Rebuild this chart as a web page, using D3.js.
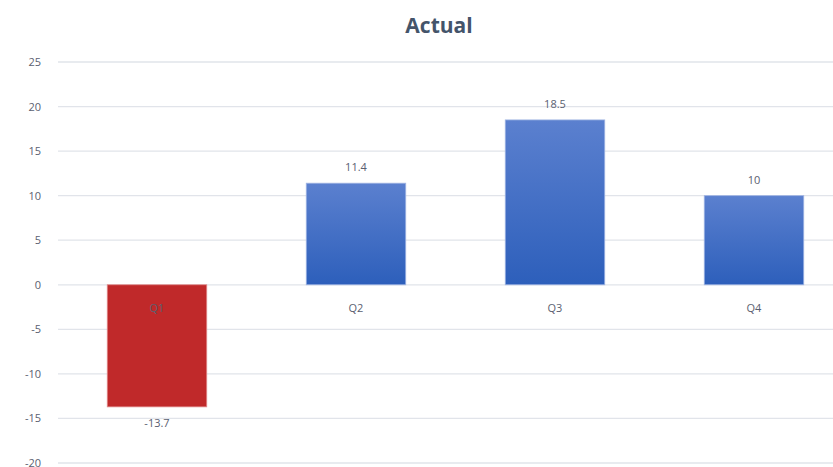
<!DOCTYPE html>
<html><head><meta charset="utf-8">
<script src="https://cdn.jsdelivr.net/npm/d3@7"></script>
<style>body{margin:0;background:#fff;overflow:hidden}svg{display:block}</style>
</head><body>
<script>
const categories = ["Q1","Q2","Q3","Q4"];
const values = [-13.7, 11.4, 18.5, 10];
const yTicks = [25,20,15,10,5,0,-5,-10,-15,-20];
const title = "Actual";

const W = 833, H = 467;
const txtColor = "#5a6070";
const svg = d3.select("body").append("svg").attr("width", W).attr("height", H);
const defs = svg.append("defs");
const g1 = defs.append("linearGradient").attr("id","blueGrad").attr("x1",0).attr("y1",0).attr("x2",0).attr("y2",1);
g1.append("stop").attr("offset","0%").attr("stop-color","#5b80cf");
g1.append("stop").attr("offset","100%").attr("stop-color","#2d5fbb");

const x = d3.scaleBand().domain(categories).range([57.5, 853.5]).paddingInner(0.5).paddingOuter(0.25);
const y = d3.scaleLinear().domain([-20, 25]).range([463, 62]);

// gridlines
svg.append("g").selectAll("line").data(yTicks).join("line")
  .attr("x1", 58).attr("x2", W).attr("y1", d => y(d)).attr("y2", d => y(d))
  .attr("stroke", "#e1e4ea").attr("stroke-width", 1.3);

// y axis labels
const yAxis = d3.axisLeft(y).tickValues(yTicks).tickSize(0).tickPadding(0).tickFormat(d => String(d));
const ya = svg.append("g").attr("transform","translate(41,0)").call(yAxis);
ya.select(".domain").remove();
ya.selectAll("text").attr("fill",txtColor).style("font-family","Open Sans, sans-serif").style("font-size","11px");

// bars
svg.append("g").selectAll("rect").data(values).join("rect")
  .attr("x", (d,i) => x(categories[i]))
  .attr("width", x.bandwidth())
  .attr("y", d => y(Math.max(0,d)))
  .attr("height", d => Math.abs(y(d) - y(0)))
  .attr("fill", d => d < 0 ? "#c0292a" : "url(#blueGrad)")
  .attr("stroke", d => d < 0 ? "#e08a8a" : "#9fb4e3").attr("stroke-width", 0.8);

// category labels
svg.append("g").selectAll("text").data(categories).join("text")
  .attr("x", d => x(d) + x.bandwidth()/2).attr("y", y(0) + 27)
  .attr("text-anchor","middle").attr("fill",txtColor)
  .style("font-family","Open Sans, sans-serif").style("font-size","11px")
  .text(d => d);

// value labels
svg.append("g").selectAll("text").data(values).join("text")
  .attr("x", (d,i) => x(categories[i]) + x.bandwidth()/2)
  .attr("y", d => d >= 0 ? y(d) - 12 : y(d) + 20)
  .attr("text-anchor","middle").attr("fill",txtColor)
  .style("font-family","Open Sans, sans-serif").style("font-size","11px")
  .text(d => String(d));

// title
svg.append("text").attr("x", 439).attr("y", 33).attr("text-anchor","middle")
  .attr("fill","#44546a").style("font-family","Open Sans, sans-serif")
  .style("font-size","21px").style("font-weight","bold").text(title);
</script>
</body></html>
